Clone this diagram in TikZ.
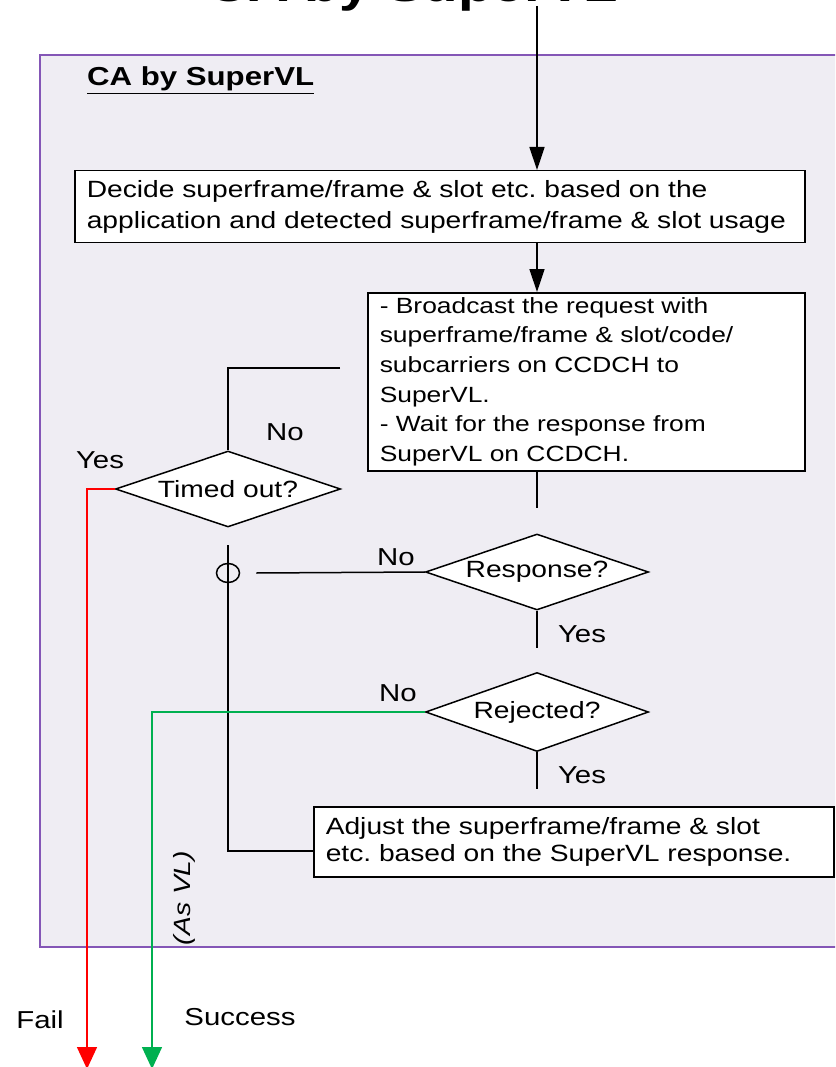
\documentclass[tikz,border=0pt]{standalone}
\usepackage{fontspec}
\setmainfont{Liberation Sans}[FakeStretch=1.2]
\usetikzlibrary{shapes.geometric,arrows.meta}
\definecolor{framepurple}{HTML}{8456B6}
\definecolor{framefill}{HTML}{EFEDF3}
\definecolor{okgreen}{HTML}{00B050}
\frenchspacing

\begin{document}
\begin{tikzpicture}[x=1pt, y=-1pt, line width=1.5pt,
  procbox/.style={draw, fill=white, anchor=north west, align=left, inner xsep=12pt, inner ysep=0pt, font=\fontsize{23.5}{31}\selectfont},
  decision/.style={draw, fill=white, shape=diamond, shape aspect=3, inner sep=0pt, minimum width=225pt, minimum height=76pt, font=\fontsize{23.5}{26}\selectfont},
  lbl/.style={font=\fontsize{24.5}{27}\selectfont},
  flowtip/.style={-{Triangle[length=23pt,width=15pt]}},
  outtip/.style={-{Triangle[length=22pt,width=20pt]}}]
  \useasboundingbox (0,0) rectangle (835,1067);
  \clip (0,0) rectangle (835,1067);

  % frame and titles
  \draw[framepurple, fill=framefill] (40,55) rectangle (850,947);
  \node[anchor=base, font=\fontsize{47}{52}\selectfont\bfseries] (title) at (413,2) {CA by SuperVL};
  \node[anchor=base west, font=\fontsize{26}{30}\selectfont\bfseries] (calabel) at (83,86) {\underline{CA by SuperVL}};

  % boxes
  \node[procbox, text width=706pt, minimum height=72pt] (decide) at (74,170)
    {Decide superframe/frame \& slot etc. based on the\\application and detected superframe/frame \& slot usage};
  \node[procbox, text width=413pt, minimum height=178pt, font=\fontsize{22}{29.7}\selectfont] (bcast) at (367,292)
    {- Broadcast the request with\\superframe/frame \& slot/code/\\subcarriers on CCDCH to\\SuperVL.\\- Wait for the response from\\SuperVL on CCDCH.};
  \node[procbox, text width=496pt, minimum height=70pt, font=\fontsize{23.5}{27}\selectfont] (adjust) at (313,806)
    {Adjust the superframe/frame \& slot\\etc. based on the SuperVL response.};

  % decisions
  \node[decision] (timeout) at (228,489) {Timed out?};
  \node[decision, minimum width=223pt] (response) at (537,572) {Response?};
  \node[decision, minimum width=223pt, minimum height=79pt] (rejected) at (537,712) {Rejected?};
  \node[draw, shape=ellipse, minimum width=23pt, minimum height=19pt, inner sep=0pt] (hop) at (228,573) {};

  \coordinate (topin) at (537,6);
  \coordinate (bcastout) at (537,508);
  \coordinate (toin) at (340,368);
  \coordinate (loopstart) at (228,545);
  \coordinate (failend) at (87,1069);
  \coordinate (successend) at (152,1069);

  % connectors
  \draw[flowtip] (topin) -- (topin |- decide.north);
  \draw[flowtip] (topin |- decide.south) -- (topin |- bcast.north);
  \draw (topin |- bcast.south) -- (bcastout);
  \draw (toin) -| (timeout.north);
  \draw (loopstart) |- ([yshift=-9pt]adjust.west);
  \draw (response.west) -- ([xshift=16pt]hop.east);
  \draw (response.south) -- ++(0,37);
  \draw (rejected.south) -- ++(0,37);
  \draw[red, outtip] (timeout.west) -| (failend);
  \draw[okgreen, outtip] (rejected.west) -| (successend);

  % labels
  \node[lbl] (tono) at (285,432) {No};
  \node[lbl] (toyes) at (100,460) {Yes};
  \node[lbl] (rsno) at (396,557) {No};
  \node[lbl] (rsyes) at (582,634) {Yes};
  \node[lbl] (rjno) at (398,693) {No};
  \node[lbl] (rjyes) at (582,775) {Yes};
  \node[lbl, rotate=90, font=\fontsize{23.5}{26}\selectfont\itshape] (asvl) at (184,898) {(As VL)};
  \node[lbl] (fail) at (40,1020) {Fail};
  \node[lbl] (success) at (240,1017) {Success};
\end{tikzpicture}
\end{document}
